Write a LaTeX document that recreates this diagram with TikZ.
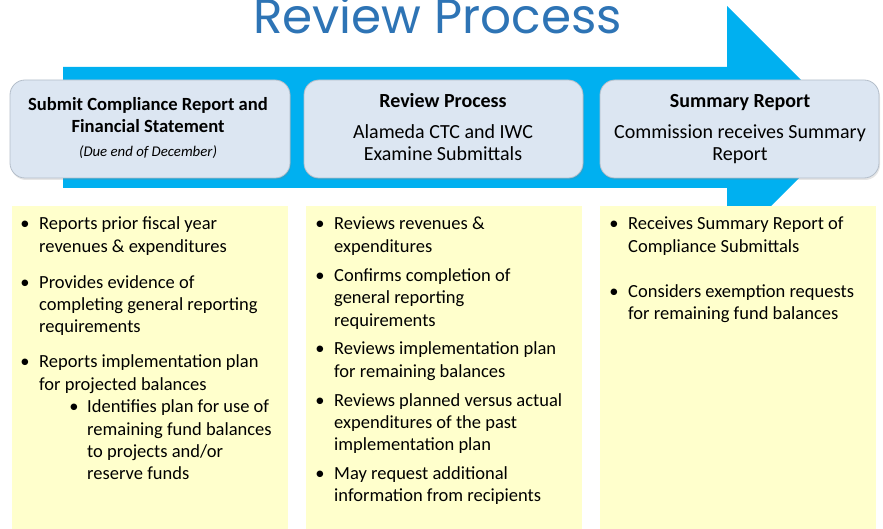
\documentclass[tikz,border=0pt]{standalone}
\usepackage{fontspec}
\setmainfont{Carlito}
\newfontfamily\titlefont{Poppins}
\usetikzlibrary{shadows}
\definecolor{arrowblue}{RGB}{0,176,240}
\definecolor{boxblue}{RGB}{220,230,242}
\definecolor{boxedge}{RGB}{180,190,202}
\definecolor{notefill}{RGB}{255,255,204}
\definecolor{titleblue}{RGB}{46,116,181}
\tikzset{
  stagebox/.style={draw=boxedge, line width=0.8pt, fill=boxblue, rounded corners=15pt},
  notebox/.style={fill=notefill, draw=none},
  head/.style={anchor=base, font=\bfseries\fontsize{20}{24}\selectfont, inner sep=0pt},
  headsmall/.style={anchor=base, font=\bfseries\fontsize{18.6}{22}\selectfont, inner sep=0pt},
  sub/.style={anchor=base, font=\fontsize{20}{24}\selectfont, inner sep=0pt},
  txt/.style={anchor=base west, font=\fontsize{18.5}{22}\selectfont, inner sep=0pt},
  dot/.style={anchor=base, font=\fontsize{18.5}{22}\selectfont, inner sep=0pt}
}
\newcommand{\bl}[4]{\node[txt] (#1) at (#2,#3) {#4};}
\newcommand{\bt}[3]{\node[dot] (#1) at (#2,#3) {\textbullet};}
\begin{document}
\begin{tikzpicture}[x=1pt,y=-1pt]
\useasboundingbox (0,0) rectangle (883,529);
% title
\node[anchor=base, text=titleblue, font=\titlefont\fontsize{48.5}{54}\selectfont, inner sep=0pt] (title) at (437.5,34) {Review Process};
% arrow
\fill[arrowblue] (63,67) -- (727,67) -- (727,6) -- (849,128) -- (727,250) -- (727,188) -- (63,188) -- cycle;
% stage boxes
\draw[stagebox, drop shadow={opacity=0.2, shadow xshift=1pt, shadow yshift=-2pt}] (10,80) rectangle (290,178);
\draw[stagebox, drop shadow={opacity=0.2, shadow xshift=1pt, shadow yshift=-2pt}] (304,80) rectangle (583,178);
\draw[stagebox, drop shadow={opacity=0.2, shadow xshift=1pt, shadow yshift=-2pt}] (600,80) rectangle (879,178);
% stage texts
\node[headsmall] (h1a) at (148,111) {Submit Compliance Report and};
\node[headsmall] (h1b) at (148,132.5) {Financial Statement};
\node[anchor=base, font=\itshape\fontsize{14.8}{18}\selectfont, inner sep=0pt] (h1c) at (148,157) {(Due end of December)};
\node[head] (h2a) at (443,107.5) {Review Process};
\node[sub] (h2b) at (443,139) {Alameda CTC and IWC};
\node[sub] (h2c) at (443,161) {Examine Submittals};
\node[head] (h3a) at (740,108) {Summary Report};
\node[sub] (h3b) at (740,139) {Commission receives Summary};
\node[sub] (h3c) at (740,161) {Report};
% note boxes
\fill[notebox] (12,206) rectangle (288,529);
\fill[notebox] (306,206) rectangle (582,529);
\fill[notebox] (600,206) rectangle (876,529);
% column 1
\bt{d1}{25}{230} \bl{a1}{39}{230}{Reports prior fiscal year}
\bl{a2}{39}{252.5}{revenues \& expenditures}
\bt{d2}{25}{288} \bl{a3}{39}{288}{Provides evidence of}
\bl{a4}{39}{310.5}{completing general reporting}
\bl{a5}{39}{332.5}{requirements}
\bt{d3}{25}{367.5} \bl{a6}{39}{367.5}{Reports implementation plan}
\bl{a7}{39}{390.5}{for projected balances}
\bt{d4}{74}{412.5} \bl{a8}{87}{412.5}{Identifies plan for use of}
\bl{a9}{87}{435.5}{remaining fund balances}
\bl{a10}{87}{457.5}{to projects and/or}
\bl{a11}{87}{479.5}{reserve funds}
% column 2
\bt{e1}{320}{230} \bl{b1}{334}{230}{Reviews revenues \&}
\bl{b2}{334}{252.5}{expenditures}
\bt{e2}{320}{281.5} \bl{b3}{334}{281.5}{Confirms completion of}
\bl{b4}{334}{303.5}{general reporting}
\bl{b5}{334}{326.5}{requirements}
\bt{e3}{320}{354.5} \bl{b6}{334}{354.5}{Reviews implementation plan}
\bl{b7}{334}{377.5}{for remaining balances}
\bt{e4}{320}{406.5} \bl{b8}{334}{406.5}{Reviews planned versus actual}
\bl{b9}{334}{428.5}{expenditures of the past}
\bl{b10}{334}{450.5}{implementation plan}
\bt{e5}{320}{479.5} \bl{b11}{334}{479.5}{May request additional}
\bl{b12}{334}{501.5}{information from recipients}
% column 3
\bt{f1}{614}{230} \bl{c1}{628}{230}{Receives Summary Report of}
\bl{c2}{628}{252.5}{Compliance Submittals}
\bt{f2}{614}{297.5} \bl{c3}{628}{297.5}{Considers exemption requests}
\bl{c4}{628}{319.5}{for remaining fund balances}
\end{tikzpicture}
\end{document}
